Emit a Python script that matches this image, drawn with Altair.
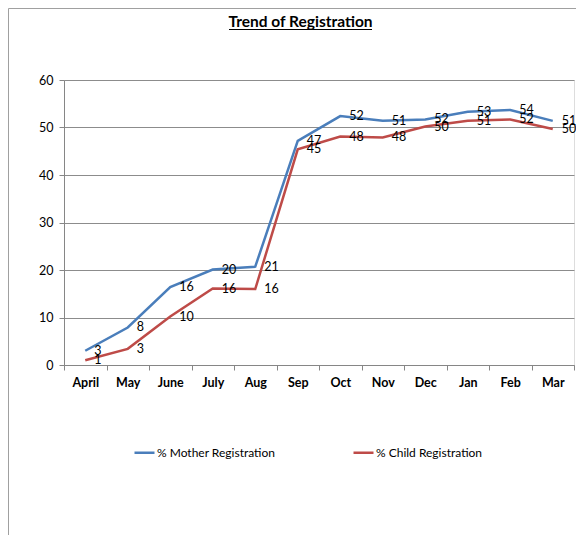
import altair as alt
import pandas as pd

months = ["April", "May", "June", "July", "Aug", "Sep", "Oct", "Nov", "Dec", "Jan", "Feb", "Mar"]
mother = [3.0, 7.9, 16.4, 20.1, 20.7, 47.2, 52.4, 51.4, 51.7, 53.3, 53.7, 51.4]
child = [1.0, 3.4, 10.2, 16.1, 16.0, 45.4, 48.1, 47.9, 50.2, 51.4, 51.7, 49.7]
series_names = ["% Mother Registration", "% Child Registration"]
series_colors = ["#4A7EBB", "#BE4B48"]
title_text = "Trend of Registration"

rows = []
for name, vals in zip(series_names, [mother, child]):
    for m, v in zip(months, vals):
        rows.append({"month": m, "series": name, "value": v, "label": str(int(round(v)))})
df = pd.DataFrame(rows)

W, H = 510, 285
FONT = "Lato"

x = alt.X("month:N", sort=months, scale=alt.Scale(type="band", paddingInner=0, paddingOuter=0),
          axis=alt.Axis(title=None, labelAngle=0, labelFontWeight="bold", labelFontSize=12.5,
                        labelFont=FONT, labelColor="#000000", tickBand="extent", tickSize=5,
                        labelPadding=6, grid=False, domainColor="#868686", tickColor="#868686"))
y = alt.Y("value:Q", scale=alt.Scale(domain=[0, 60], nice=False),
          axis=alt.Axis(title=None, values=[0, 10, 20, 30, 40, 50, 60], labelFontSize=12.5,
                        labelFont=FONT, labelColor="#000000", tickSize=5, labelPadding=6,
                        gridColor="#8c8c8c", domainColor="#868686", tickColor="#868686"))
color = alt.Color("series:N", scale=alt.Scale(domain=series_names, range=series_colors),
                  sort=series_names,
                  legend=alt.Legend(title=None, orient="none", direction="horizontal",
                                    legendX=69, legendY=361, symbolType="stroke",
                                    symbolSize=400, symbolStrokeWidth=2.5, labelOffset=1,
                                    labelFont=FONT, labelFontSize=12, labelColor="#000000",
                                    columnPadding=72, labelLimit=300))

lines = alt.Chart(df).mark_line(strokeWidth=2.5).encode(x=x, y=y, color=color, detail="series:N")
labels = alt.Chart(df).mark_text(align="left", baseline="middle", dx=9, fontSize=12.5,
                                 font=FONT, color="#000000").encode(
    x=alt.X("month:N", sort=months), y="value:Q", text="label:N")

one = alt.Data(values=[{"t": title_text}])

border = alt.Chart(one).mark_rect(
    filled=False, stroke="#a0a0a0", strokeWidth=1).encode(
    x=alt.value(-55.5), x2=alt.value(620), y=alt.value(-71.5), y2=alt.value(600))

title = alt.Chart(one).mark_text(align="center", baseline="alphabetic", fontSize=15.5,
                                 fontWeight="bold", font=FONT, color="#000000").encode(
    x=alt.value(236.5), y=alt.value(-53), text="t:N")

underline = alt.Chart(one).mark_rule(color="#000000", strokeWidth=1.2).encode(
    x=alt.value(165), x2=alt.value(308), y=alt.value(-50.5))

chart = alt.layer(border, lines, labels, title, underline).properties(
    width=W, height=H,
    autosize=alt.AutoSizeParams(type="none"),
    padding={"left": 56, "top": 72, "right": 2, "bottom": 170},
).configure_view(stroke=None).configure(background="#ffffff")

chart.save("out.html", embed_options={"renderer": "svg", "actions": False})
